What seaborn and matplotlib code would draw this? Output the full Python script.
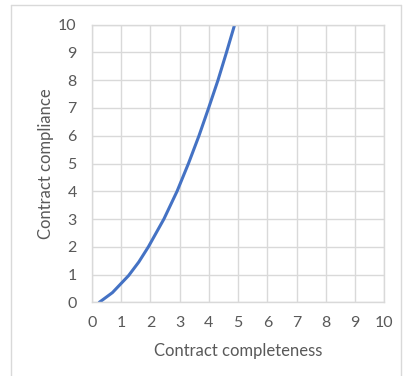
import matplotlib
matplotlib.use("Agg")
import matplotlib.pyplot as plt
from matplotlib.lines import Line2D
import seaborn as sns
import pandas as pd

# Compliance vs completeness curve
completeness = [0.25, 0.70, 1.25, 1.60, 1.93, 2.46, 2.91, 3.30, 3.66, 3.99, 4.31, 4.60, 4.88]
compliance = [0.0, 0.35, 0.96, 1.45, 2.0, 3.0, 4.0, 5.0, 6.0, 7.0, 8.0, 9.0, 10.0]
ticks = list(range(0, 11))

df = pd.DataFrame({"completeness": completeness, "compliance": compliance})

sns.set_theme(style="whitegrid")
plt.rcParams["font.family"] = ["Lato", "DejaVu Sans"]

grid_col = "#D9D9D9"
text_col = "#595959"

fig = plt.figure(figsize=(4.03, 3.76), dpi=100)
ax = fig.add_axes([92 / 403, 1 - 302.3 / 376, (384.3 - 92) / 403, (302.3 - 24.7) / 376])

sns.lineplot(data=df, x="completeness", y="compliance", sort=False, estimator=None,
             color="#4472C4", linewidth=2.2, ax=ax)

ax.set_xlim(0, 10)
ax.set_ylim(0, 10)
ax.set_xticks(ticks)
ax.set_yticks(ticks)
ax.set_xticklabels([str(t) for t in ticks])
ax.set_yticklabels([str(t) for t in ticks])
ax.grid(True, color=grid_col, linewidth=1.0)
ax.set_axisbelow(True)
for s in ax.spines.values():
    s.set_visible(True)
    s.set_color(grid_col)
    s.set_linewidth(1.0)
ax.tick_params(axis="both", length=0, labelsize=11.5, labelcolor=text_col)
ax.tick_params(axis="x", pad=10)
ax.tick_params(axis="y", pad=11)
ax.set_facecolor("white")

ax.set_xlabel("Contract completeness", fontsize=12, color=text_col)
ax.set_ylabel("Contract compliance", fontsize=12, color=text_col)
ax.xaxis.set_label_coords(0.5, -0.175)
ax.xaxis.label.set_va("center")
ax.yaxis.set_label_coords(-0.158, 0.5)
ax.yaxis.label.set_va("center")

# chart-area border
border = dict(color=grid_col, linewidth=1.0, transform=fig.transFigure)
fig.add_artist(Line2D([11 / 403, 11 / 403], [0, 1 - 5 / 376], **border))
fig.add_artist(Line2D([11 / 403, 401 / 403], [1 - 5 / 376, 1 - 5 / 376], **border))
fig.add_artist(Line2D([401 / 403, 401 / 403], [0, 1 - 5 / 376], **border))

fig.savefig("out.png", dpi=100, facecolor="white")
